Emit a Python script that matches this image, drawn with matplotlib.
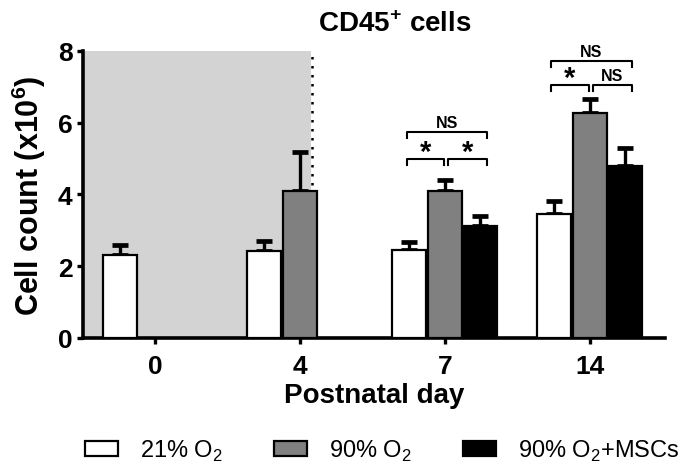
import numpy as np
import matplotlib
matplotlib.use("Agg")
import matplotlib.pyplot as plt
from matplotlib.patches import Patch

plt.rcParams['font.family'] = ['Liberation Sans', 'DejaVu Sans']
plt.rcParams['mathtext.fontset'] = 'custom'
plt.rcParams['mathtext.rm'] = 'Liberation Sans'
plt.rcParams['mathtext.bf'] = 'Liberation Sans:bold'

# data (cell count x10^6), upper SEM only
days = ['0', '4', '7', '14']
groups = ['21% O$_2$', '90% O$_2$', '90% O$_2$+MSCs']
mean_21 = [2.31, 2.42, 2.45, 3.45]
err_21 = [0.28, 0.28, 0.22, 0.37]
mean_90 = [np.nan, 4.09, 4.09, 6.27]
err_90 = [np.nan, 1.09, 0.31, 0.39]
mean_msc = [np.nan, np.nan, 3.12, 4.79]
err_msc = [np.nan, np.nan, 0.28, 0.50]

# significance brackets: (day index, left offset, right offset, y, label)
brackets = [
    (2, -0.26, -0.005, 4.99, '*'),
    (2, 0.02, 0.29, 4.99, '*'),
    (2, -0.26, 0.29, 5.74, 'NS'),
    (3, -0.27, -0.005, 7.05, '*'),
    (3, 0.02, 0.29, 7.05, 'NS'),
    (3, -0.27, 0.29, 7.72, 'NS'),
]

colors = ['white', '#808080', 'black']
offsets = [-0.245, 0.0, 0.245]
width = 0.235

fig = plt.figure(figsize=(6.85, 4.64), dpi=100)
ax = fig.add_axes([0.1212, 0.2694, 0.8496, 0.619])

# hyperoxia exposure shading
ax.axvspan(-0.5, 1.075, ymin=0, ymax=1, color='#d3d3d3', zorder=0, lw=0)
ax.plot([1.085, 1.085], [0, 8], color='black', lw=1.8, ls=(0, (1, 2.6)), zorder=1)

x = np.arange(len(days))
for means, errs, c, off in zip([mean_21, mean_90, mean_msc],
                               [err_21, err_90, err_msc], colors, offsets):
    m = np.array(means)
    e = np.array(errs)
    ok = ~np.isnan(m)
    ax.errorbar(x[ok] + off, m[ok], yerr=[np.zeros(ok.sum()), e[ok]], fmt='none',
                ecolor='black', elinewidth=2.4, capsize=6, capthick=3.4, zorder=2)
    ax.bar(x[ok] + off, m[ok], width=width, color=c, edgecolor='black',
           linewidth=1.6, zorder=3)

for d, l, r, y, lab in brackets:
    h = 0.16
    ax.plot([d + l, d + l, d + r, d + r], [y - h, y, y, y - h], color='black',
            lw=1.5, clip_on=False, zorder=4)
    if lab == '*':
        ax.text(d + (l + r) / 2, y - 0.2, lab, ha='center', va='bottom',
                fontsize=21, fontweight='bold', clip_on=False)
    else:
        ax.text(d + (l + r) / 2, y + 0.04, lab, ha='center', va='bottom',
                fontsize=11.5, fontweight='bold', clip_on=False)

ax.set_xlim(-0.497, 3.52)
ax.set_ylim(0, 8)
ax.set_yticks([0, 2, 4, 6, 8])
ax.set_xticks(x)
ax.set_xticklabels(days)
for s in ['top', 'right']:
    ax.spines[s].set_visible(False)
for s in ['left', 'bottom']:
    ax.spines[s].set_linewidth(2.6)
ax.tick_params(axis='both', width=2.4, length=4.5, labelsize=19)
ax.tick_params(axis='x', pad=7)
ax.tick_params(axis='y', pad=3)
for t in ax.get_xticklabels() + ax.get_yticklabels():
    t.set_fontweight('bold')

ax.set_xlabel('Postnatal day', fontsize=20, fontweight='bold', labelpad=3)
ax.set_ylabel('Cell count (x10$^\\mathbf{6}$)', fontsize=22, fontweight='bold', labelpad=7)
fig.text(0.577, 0.946, 'CD45$^\\mathbf{+}$ cells', ha='center', va='center',
         fontsize=20, fontweight='bold')

handles = [Patch(facecolor=c, edgecolor='black', linewidth=1.6) for c in colors]
fig.legend(handles, groups, loc='center', bbox_to_anchor=(0.558, 0.028), ncol=3,
           frameon=False, fontsize=17, handlelength=1.4, handleheight=0.6,
           handletextpad=0.9, columnspacing=2.2, borderaxespad=0)

fig.savefig('out.png', dpi=100)
